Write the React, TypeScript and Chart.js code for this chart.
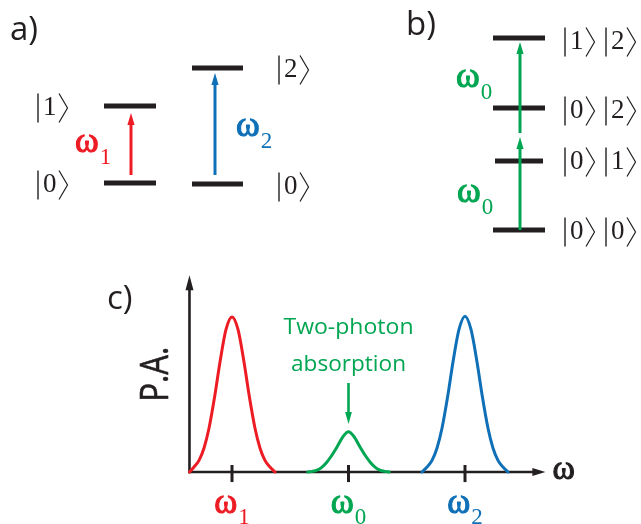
import React, { useEffect, useRef } from 'react';
import { Chart, registerables } from 'chart.js';

Chart.register(...registerables);

const W = 641;
const H = 524;
const INK = '#231f20';
const RED = '#ed1c24';
const BLUE = '#0f70b7';
const GREEN = '#00a651';
const SERIF = '"Liberation Serif", "DejaVu Serif", serif';
const SANS = '"Open Sans", "Noto Sans", sans-serif';

// ---------- Panels a) and b): energy-level diagrams (diagram units, y down) ----------
const levelX0 = [104, 104, 192, 192, 493, 495, 493, 493];
const levelX1 = [156, 156, 243, 243, 545, 543, 545, 545];
const levelY = [183, 106, 184, 68, 230, 161, 108, 38];

const ketX = [38, 38, 279, 279, 565, 565, 565, 565];
const ketY = [185, 108, 187, 70, 232, 162, 111, 42];
const ketDigits = [['0'], ['1'], ['0'], ['2'], ['0', '0'], ['0', '1'], ['0', '2'], ['1', '2']];

const transX = [131, 215, 520, 520];
const transFrom = [175, 175, 230, 133];
const transTo = [113, 73, 137, 42];
const transColor = [RED, BLUE, GREEN, GREEN];

const freqLabelX = [75, 236, 456, 457];
const freqLabelY = [152, 136, 87, 202];
const freqLabelSub = ['1', '2', '0', '0'];
const freqLabelColor = [RED, BLUE, GREEN, GREEN];

const panelLabels = ['a)', 'b)', 'c)'];
const panelLabelX = [10, 406, 107];
const panelLabelY = [40, 35, 309];

// ---------- Panel c): absorption spectrum (ω units, P.A. normalised) ----------
const omegaTicks = [1, 2, 3];
const omegaTickSub = ['1', '0', '2'];
const omegaTickColor = [RED, GREEN, BLUE];

const redOmega = [0.635, 0.674, 0.717, 0.76, 0.803, 0.854, 0.897, 0.948, 1.0, 1.052, 1.103, 1.146, 1.197, 1.24, 1.283, 1.326, 1.369];
const redPA = [0, 0.032, 0.075, 0.155, 0.284, 0.5, 0.71, 0.918, 1.0, 0.918, 0.71, 0.5, 0.284, 0.155, 0.075, 0.032, 0];

const greenOmega = [1.65, 1.69, 1.73, 1.77, 1.81, 1.85, 1.9, 1.95, 2.0, 2.05, 2.1, 2.15, 2.19, 2.23, 2.27, 2.31, 2.35];
const greenPA = [0, 0.004, 0.012, 0.03, 0.06, 0.1, 0.16, 0.225, 0.26, 0.225, 0.16, 0.1, 0.06, 0.03, 0.012, 0.004, 0];

const blueOmega = [2.631, 2.674, 2.717, 2.76, 2.803, 2.854, 2.897, 2.948, 3.0, 3.052, 3.103, 3.146, 3.197, 3.24, 3.283, 3.326, 3.369];
const bluePA = [0, 0.032, 0.075, 0.155, 0.284, 0.5, 0.71, 0.918, 1.005, 0.918, 0.71, 0.5, 0.284, 0.155, 0.075, 0.032, 0];

const axisOmegaStart = 0.635;
const axisOmegaEnd = 3.69;
const axisPAEnd = 1.27;
const twoPhotonArrow = { omega: 2.0, from: 0.574, to: 0.31 };

// layout of the spectrum frame on the canvas
const OMEGA_ORIGIN_PX = 115.5;
const OMEGA_PX = 116.5;
const PA_ZERO_PX = 472;
const PA_PX = 155;

function drawArrow(ctx: CanvasRenderingContext2D, x0: number, y0: number, x1: number, y1: number,
  color: string, width: number, headLen: number, headHalf: number) {
  const ang = Math.atan2(y1 - y0, x1 - x0);
  const c = Math.cos(ang), s = Math.sin(ang);
  const bx = x1 - headLen * c, by = y1 - headLen * s;
  ctx.save();
  ctx.strokeStyle = color;
  ctx.fillStyle = color;
  ctx.lineWidth = width;
  ctx.lineCap = 'butt';
  ctx.beginPath();
  ctx.moveTo(x0, y0);
  ctx.lineTo(bx + 2 * c, by + 2 * s);
  ctx.stroke();
  ctx.beginPath();
  ctx.moveTo(x1, y1);
  ctx.lineTo(bx - headHalf * s, by + headHalf * c);
  ctx.lineTo(bx + headHalf * s, by - headHalf * c);
  ctx.closePath();
  ctx.fill();
  ctx.restore();
}

function drawKet(ctx: CanvasRenderingContext2D, xBar: number, yc: number, digit: string) {
  const half = 14.5;
  ctx.save();
  ctx.strokeStyle = INK;
  ctx.fillStyle = INK;
  ctx.lineWidth = 1.4;
  ctx.beginPath();
  ctx.moveTo(xBar, yc - half);
  ctx.lineTo(xBar, yc + half);
  ctx.stroke();
  ctx.font = `27px ${SERIF}`;
  ctx.textBaseline = 'alphabetic';
  ctx.textAlign = 'left';
  const dx = xBar + 5;
  ctx.fillText(digit, dx, yc + 7);
  const dw = ctx.measureText(digit).width;
  const bx = dx + dw + 2.5;
  ctx.lineWidth = 1.2;
  ctx.beginPath();
  ctx.moveTo(bx, yc - half);
  ctx.lineTo(bx + 8.5, yc);
  ctx.lineTo(bx, yc + half);
  ctx.stroke();
  ctx.restore();
}

function drawOmega(ctx: CanvasRenderingContext2D, x: number, baseline: number, sub: string, color: string,
  size: number, subSize: number, subDrop: number, center: boolean) {
  ctx.save();
  ctx.fillStyle = color;
  ctx.strokeStyle = color;
  ctx.lineWidth = 1.1;
  ctx.lineJoin = 'round';
  ctx.textBaseline = 'alphabetic';
  ctx.textAlign = 'left';
  ctx.font = `${size}px ${SERIF}`;
  const w1 = ctx.measureText('\u03c9').width;
  ctx.font = `${subSize}px ${SERIF}`;
  const w2 = sub ? ctx.measureText(sub).width : 0;
  const left = center ? x - (w1 + 1 + w2) / 2 : x;
  ctx.font = `${size}px ${SERIF}`;
  ctx.fillText('\u03c9', left, baseline);
  ctx.strokeText('\u03c9', left, baseline);
  if (sub) {
    ctx.font = `${subSize}px ${SERIF}`;
    ctx.fillText(sub, left + w1 + 1, baseline + subDrop);
  }
  ctx.restore();
}

function fitText(ctx: CanvasRenderingContext2D, text: string, cx: number, baseline: number,
  targetW: number, size: number, color: string) {
  ctx.save();
  ctx.font = `${size}px ${SANS}`;
  ctx.fillStyle = color;
  ctx.textAlign = 'center';
  ctx.textBaseline = 'alphabetic';
  const w = ctx.measureText(text).width;
  ctx.translate(cx, baseline);
  ctx.scale(targetW / w, 1);
  ctx.fillText(text, 0, 0);
  ctx.restore();
}

const figurePlugin = {
  id: 'figure',
  beforeDatasetsDraw(chart: any) {
    const ctx: CanvasRenderingContext2D = chart.ctx;
    const xw = chart.scales.xw, yp = chart.scales.yp;
    const ox = xw.getPixelForValue(axisOmegaStart);
    const oy = yp.getPixelForValue(0);
    drawArrow(ctx, ox - 1.3, oy, xw.getPixelForValue(axisOmegaEnd), oy, INK, 2.6, 13, 4);
    drawArrow(ctx, ox, oy + 1.3, ox, yp.getPixelForValue(axisPAEnd), INK, 2.6, 15, 4);
    ctx.save();
    ctx.strokeStyle = INK;
    ctx.lineWidth = 3;
    omegaTicks.forEach((w) => {
      const x = xw.getPixelForValue(w);
      ctx.beginPath();
      ctx.moveTo(x, yp.getPixelForValue(0.045));
      ctx.lineTo(x, yp.getPixelForValue(-0.065));
      ctx.stroke();
    });
    ctx.restore();
  },
  afterDatasetsDraw(chart: any) {
    const ctx: CanvasRenderingContext2D = chart.ctx;
    const sx = chart.scales.x, sy = chart.scales.y;
    const xw = chart.scales.xw, yp = chart.scales.yp;

    transX.forEach((x, i) => {
      const px = sx.getPixelForValue(x);
      drawArrow(ctx, px, sy.getPixelForValue(transFrom[i]), px, sy.getPixelForValue(transTo[i]),
        transColor[i], 3, 12, 3.6);
    });

    ketDigits.forEach((digits, i) => {
      digits.forEach((d, j) => {
        drawKet(ctx, sx.getPixelForValue(ketX[i] + j * 41), sy.getPixelForValue(ketY[i]), d);
      });
    });

    freqLabelX.forEach((x, i) => {
      drawOmega(ctx, sx.getPixelForValue(x), sy.getPixelForValue(freqLabelY[i]), freqLabelSub[i],
        freqLabelColor[i], 36, 23, 12, false);
    });

    ctx.save();
    ctx.fillStyle = INK;
    ctx.font = `33px ${SANS}`;
    ctx.textBaseline = 'alphabetic';
    ctx.textAlign = 'left';
    panelLabels.forEach((t, i) => {
      ctx.fillText(t, sx.getPixelForValue(panelLabelX[i]), sy.getPixelForValue(panelLabelY[i]));
    });
    ctx.restore();

    omegaTicks.forEach((w, i) => {
      drawOmega(ctx, xw.getPixelForValue(w), yp.getPixelForValue(0) + 41, omegaTickSub[i],
        omegaTickColor[i], 35, 23, 11, true);
    });
    drawOmega(ctx, xw.getPixelForValue(axisOmegaEnd) + 7, yp.getPixelForValue(0) + 7, '', INK, 34, 22, 0, false);

    ctx.save();
    ctx.translate(xw.getPixelForValue(axisOmegaStart) - 21, yp.getPixelForValue(0.63));
    ctx.rotate(-Math.PI / 2);
    ctx.fillStyle = INK;
    ctx.strokeStyle = INK;
    ctx.lineWidth = 0.6;
    ctx.font = `38px ${SANS}`;
    ctx.textAlign = 'center';
    ctx.textBaseline = 'alphabetic';
    const pw = ctx.measureText('P.A.').width;
    ctx.scale(55 / pw, 1);
    ctx.fillText('P.A.', 0, 0);
    ctx.strokeText('P.A.', 0, 0);
    ctx.restore();

    const ax = xw.getPixelForValue(twoPhotonArrow.omega);
    fitText(ctx, 'Two-photon', ax, 334, 130, 22, GREEN);
    fitText(ctx, 'absorption', ax, 371, 115, 22, GREEN);
    drawArrow(ctx, ax, yp.getPixelForValue(twoPhotonArrow.from), ax, yp.getPixelForValue(twoPhotonArrow.to),
      GREEN, 2.6, 12, 3.4);
  },
};

export default function App() {
  const ref = useRef<HTMLCanvasElement | null>(null);
  useEffect(() => {
    const canvas = ref.current;
    if (!canvas) return;
    const levelSets = levelY.map((y, i) => ({
      type: 'line' as const,
      data: [{ x: levelX0[i], y }, { x: levelX1[i], y }],
      xAxisID: 'x',
      yAxisID: 'y',
      borderColor: INK,
      borderWidth: 5,
      borderCapStyle: 'butt' as const,
      pointRadius: 0,
      fill: false,
      clip: false as const,
    }));
    const peak = (om: number[], pa: number[], color: string) => ({
      type: 'line' as const,
      data: om.map((w, i) => ({ x: w, y: pa[i] })),
      xAxisID: 'xw',
      yAxisID: 'yp',
      borderColor: color,
      borderWidth: 3,
      borderCapStyle: 'round' as const,
      borderJoinStyle: 'round' as const,
      cubicInterpolationMode: 'monotone' as const,
      pointRadius: 0,
      fill: false,
      clip: false as const,
    });
    const chart = new Chart(canvas, {
      type: 'line',
      data: {
        datasets: [
          ...levelSets,
          peak(redOmega, redPA, RED),
          peak(greenOmega, greenPA, GREEN),
          peak(blueOmega, bluePA, BLUE),
        ] as any,
      },
      options: {
        responsive: false,
        maintainAspectRatio: false,
        animation: false,
        events: [],
        layout: { padding: 0 },
        plugins: {
          legend: { display: false },
          tooltip: { enabled: false },
          title: { display: false },
        },
        scales: {
          x: { type: 'linear', min: 0, max: W, display: false },
          y: { type: 'linear', min: 0, max: H, reverse: true, display: false },
          xw: {
            type: 'linear', axis: 'x', display: false,
            min: -OMEGA_ORIGIN_PX / OMEGA_PX, max: (W - OMEGA_ORIGIN_PX) / OMEGA_PX,
          },
          yp: {
            type: 'linear', axis: 'y', display: false,
            min: -(H - PA_ZERO_PX) / PA_PX, max: PA_ZERO_PX / PA_PX,
          },
        } as any,
      },
      plugins: [figurePlugin],
    });
    return () => chart.destroy();
  }, []);
  return (
    <div style={{ position: 'absolute', left: 0, top: 0, width: W, height: H, background: '#fff' }}>
      <canvas ref={ref} width={W} height={H} style={{ display: 'block' }} />
    </div>
  );
}
